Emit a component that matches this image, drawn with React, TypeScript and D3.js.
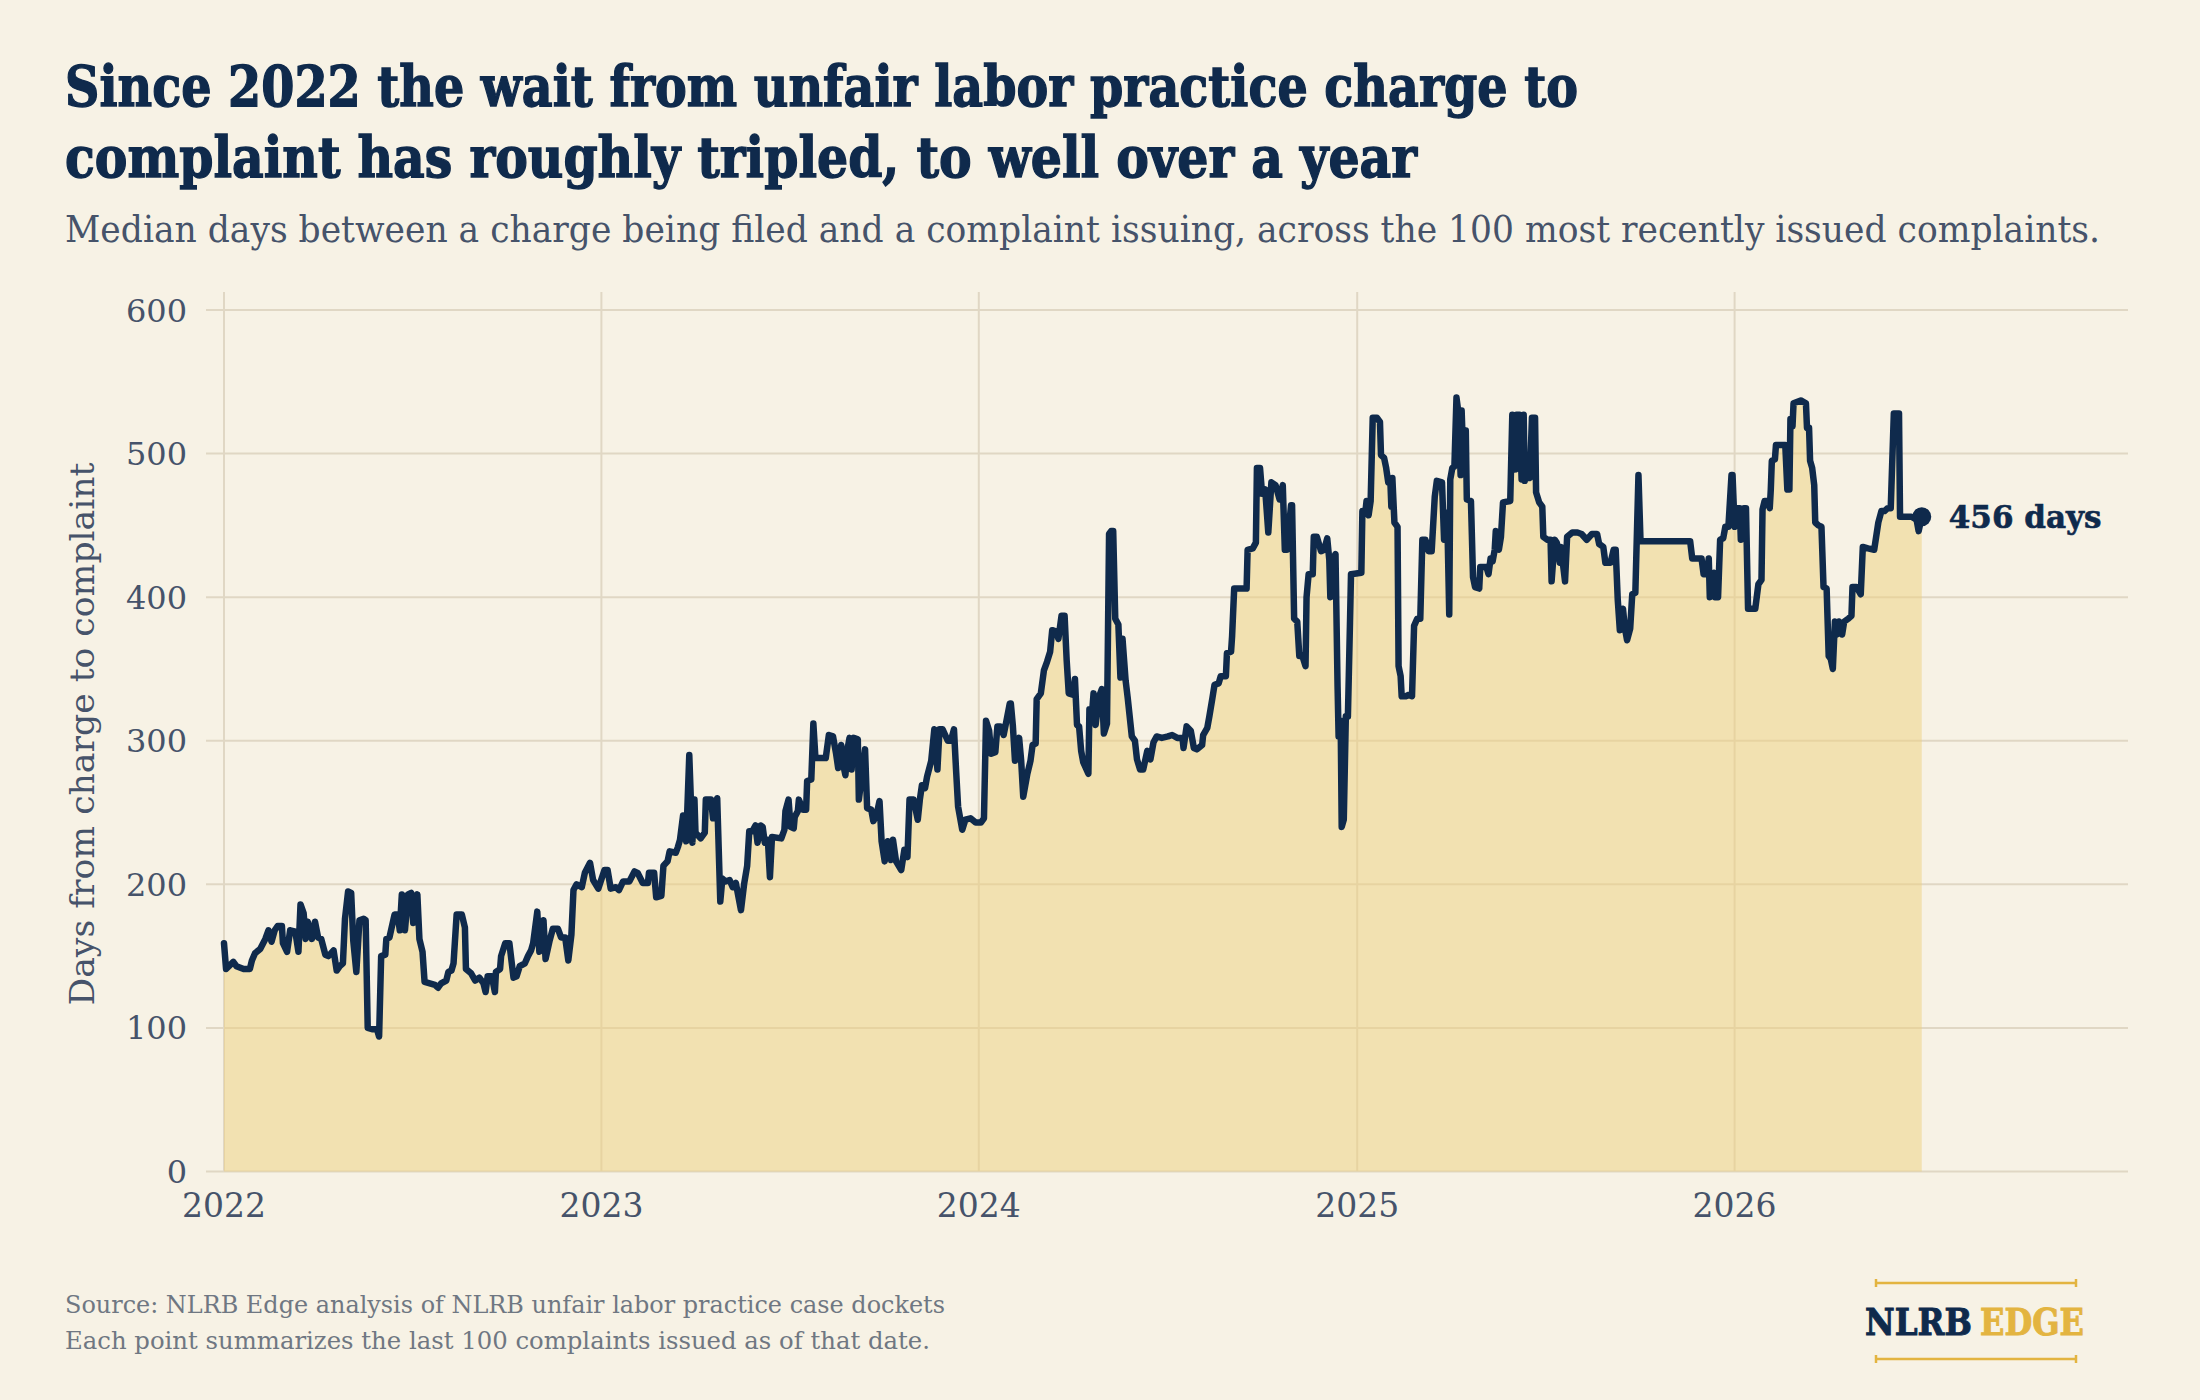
import React, { useEffect, useRef } from "react";
import * as d3 from "d3";

// ---------- DATA (median days) ----------
const year2022: [string, number][] = [
  ["01-01",159],["01-03",141],["01-10",146],["01-13",143],["01-20",141],["01-26",141],["01-28",147],["01-31",152],
  ["02-05",155],["02-10",162],["02-13",168],["02-16",160],["02-19",168],["02-22",171],["02-26",171],["02-27",159],
  ["03-03",153],["03-06",168],["03-11",167],["03-14",153],["03-16",186],["03-19",180],["03-21",162],["03-23",174],
  ["03-27",162],["03-30",174],["04-02",163],["04-05",162],["04-09",151],["04-12",150],["04-17",154],["04-20",140],
  ["04-23",143],["04-26",145],["04-28",176],["05-01",195],["05-04",194],["05-06",161],["05-09",139],["05-12",175],
  ["05-16",176],["05-18",175],["05-20",100],["05-25",99],["05-29",99],["05-31",94],["06-02",150],["06-06",151],
  ["06-07",162],["06-10",163],["06-15",179],["06-18",179],["06-20",168],["06-22",193],["06-25",168],["06-28",193],
  ["07-01",194],["07-03",173],["07-07",193],["07-09",162],["07-12",153],["07-14",132],["07-19",131],["07-24",130],
  ["07-27",128],["07-30",131],["08-04",133],["08-06",139],["08-09",140],["08-11",145],["08-14",179],["08-19",179],
  ["08-22",170],["08-23",141],["08-28",138],["09-01",133],["09-05",135],["09-09",131],["09-11",125],["09-13",136],
  ["09-17",136],["09-20",125],["09-21",139],["09-25",141],["09-26",150],["09-30",159],["10-04",159],["10-08",135],
  ["10-11",136],["10-14",143],["10-19",145],["10-22",150],["10-25",154],["10-27",159],["10-31",181],["11-02",153],
  ["11-06",175],["11-08",148],["11-12",161],["11-15",169],["11-20",169],["11-23",163],["11-27",163],["11-30",147],
  ["12-03",165],["12-05",196],["12-08",200],["12-13",198],["12-16",208],["12-21",215],["12-24",203],["12-29",197],
];

const year2023: [string, number][] = [
  ["01-04",210],["01-07",210],["01-10",197],["01-15",198],["01-18",196],["01-22",202],["01-28",202],["02-02",209],
  ["02-05",208],["02-10",201],["02-15",201],["02-16",208],["02-21",208],["02-23",191],["02-28",192],["03-02",213],
  ["03-06",216],["03-08",223],["03-14",222],["03-16",226],["03-18",231],["03-21",248],["03-24",230],["03-27",290],
  ["03-30",229],["04-01",259],["04-02",236],["04-07",232],["04-11",236],["04-12",259],["04-17",259],["04-19",246],
  ["04-23",260],["04-26",188],["04-28",204],["05-01",202],["05-05",203],["05-08",198],["05-11",201],["05-16",182],
  ["05-19",200],["05-22",213],["05-24",237],["05-27",237],["05-30",241],["06-01",229],["06-04",241],["06-06",240],
  ["06-08",229],["06-11",231],["06-13",205],["06-15",233],["06-24",232],["06-27",238],["06-28",251],["07-01",259],
  ["07-03",240],["07-06",239],["07-07",247],["07-10",251],["07-11",259],["07-15",252],["07-18",252],["07-19",272],
  ["07-23",273],["07-25",312],["07-27",288],["08-06",288],["08-09",304],["08-13",303],["08-16",291],["08-18",281],
  ["08-21",297],["08-23",283],["08-25",276],["08-27",294],["08-29",302],["08-31",280],["09-02",302],["09-06",301],
  ["09-07",259],["09-10",276],["09-13",294],["09-15",253],["09-19",252],["09-21",244],["09-24",248],["09-27",258],
  ["09-29",230],["10-02",216],["10-05",230],["10-08",217],["10-10",231],["10-13",216],["10-18",210],["10-21",224],
  ["10-24",219],["10-26",259],["10-30",259],["11-03",245],["11-05",259],["11-07",269],["11-10",267],["11-12",275],
  ["11-16",286],["11-19",308],["11-22",280],["11-24",308],["11-27",308],["12-02",300],["12-05",300],["12-08",308],
  ["12-10",280],["12-12",254],["12-16",238],["12-19",245],["12-24",246],["12-29",243],
];

const year2024: [string, number][] = [
  ["01-03",243],["01-06",246],["01-08",314],["01-11",307],["01-13",291],["01-17",292],["01-19",310],["01-22",310],
  ["01-25",304],["01-27",311],["01-31",326],["02-01",326],["02-03",310],["02-05",286],["02-09",302],["02-11",286],
  ["02-13",261],["02-17",277],["02-20",286],["02-22",297],["02-25",298],["02-26",329],["03-01",333],["03-04",349],
  ["03-07",355],["03-10",362],["03-12",377],["03-16",376],["03-18",371],["03-21",387],["03-24",387],["03-26",356],
  ["03-28",333],["04-01",332],["04-03",343],["04-05",311],["04-07",310],["04-09",293],["04-11",285],["04-16",277],
  ["04-17",322],["04-19",314],["04-21",333],["04-23",311],["04-26",330],["04-29",336],["05-01",305],["05-04",312],
  ["05-06",444],["05-08",446],["05-10",446],["05-12",385],["05-15",381],["05-17",344],["05-19",371],["05-22",342],
  ["05-24",330],["05-28",303],["05-31",300],["06-02",287],["06-05",280],["06-08",280],["06-12",293],["06-15",287],
  ["06-18",299],["06-21",303],["06-26",302],["07-02",303],["07-06",304],["07-11",302],["07-16",302],["07-17",295],
  ["07-20",310],["07-24",307],["07-27",295],["07-30",294],["08-04",297],["08-05",304],["08-09",309],["08-11",317],
  ["08-14",330],["08-16",339],["08-20",340],["08-22",345],["08-27",345],["08-28",361],["09-01",362],["09-02",373],
  ["09-04",406],["09-16",406],["09-17",433],["09-22",434],["09-25",438],["09-26",490],["09-29",490],["10-01",472],
  ["10-04",475],["10-07",445],["10-10",480],["10-14",478],["10-18",468],["10-21",478],["10-23",433],["10-25",433],
  ["10-29",464],["10-30",464],["11-01",385],["11-04",383],["11-06",359],["11-09",359],["11-12",352],["11-13",400],
  ["11-15",416],["11-19",416],["11-20",442],["11-23",442],["11-27",432],["11-30",433],["12-03",441],["12-05",426],
  ["12-06",400],["12-08",426],["12-11",430],["12-13",338],["12-14",303],["12-16",314],["12-17",240],["12-19",245],
  ["12-21",317],["12-23",317],["12-25",382],["12-26",416],
];

const year2025: [string, number][] = [
  ["01-05",417],["01-06",460],["01-09",460],["01-10",467],["01-12",457],["01-14",467],["01-16",525],["01-20",525],
  ["01-23",522],["01-24",499],["01-27",497],["01-29",490],["01-31",480],["02-02",482],["02-03",463],["02-04",483],
  ["02-06",452],["02-09",449],["02-10",352],["02-12",345],["02-13",331],["02-17",331],["02-20",332],["02-23",331],
  ["02-25",380],["02-28",385],["03-03",385],["03-05",440],["03-08",440],["03-11",432],["03-14",432],["03-17",470],
  ["03-19",481],["03-24",480],["03-26",440],["03-29",459],["03-31",388],["04-01",482],["04-03",490],["04-05",491],
  ["04-07",539],["04-09",528],["04-11",485],["04-12",530],["04-14",487],["04-16",516],["04-17",468],["04-21",467],
  ["04-23",414],["04-25",407],["04-29",406],["04-30",421],["05-06",421],["05-08",416],["05-10",427],["05-12",425],
  ["05-14",433],["05-15",446],["05-18",433],["05-20",442],["05-22",466],["05-29",467],["05-31",527],["06-03",489],
  ["06-04",527],["06-07",527],["06-09",482],["06-11",527],["06-12",481],["06-14",496],["06-17",483],["06-19",525],
  ["06-22",525],["06-23",473],["06-26",466],["06-29",463],["06-30",442],["07-04",440],["07-07",440],["07-08",411],
  ["07-11",440],["07-13",438],["07-16",424],["07-17",435],["07-21",411],["07-23",442],["07-28",445],["08-02",445],
  ["08-06",444],["08-11",440],["08-16",444],["08-21",444],["08-23",437],["08-27",435],["08-29",424],["09-03",424],
  ["09-06",433],["09-08",433],["09-10",398],["09-12",377],["09-15",392],["09-17",378],["09-19",370],["09-22",378],
  ["09-24",402],["09-27",403],["09-30",485],["10-02",439],["11-19",439],["11-21",427],["11-30",427],["12-02",416],
  ["12-05",416],["12-07",427],["12-08",400],["12-12",417],["12-13",400],["12-16",400],["12-18",440],["12-21",441],
  ["12-23",449],["12-26",449],["12-29",485],["12-30",485],
];

const year2026: [string, number][] = [
  ["01-01",449],["01-03",462],["01-06",462],["01-07",440],["01-10",462],["01-12",462],["01-14",392],["01-21",392],
  ["01-24",409],["01-27",412],["01-28",461],["01-30",467],["02-02",467],["02-04",462],["02-05",475],["02-06",495],
  ["02-09",496],["02-10",506],["02-19",506],["02-21",475],["02-23",475],["02-24",524],["02-26",519],["02-27",535],
  ["03-06",537],["03-11",535],["03-12",518],["03-14",518],["03-15",495],["03-17",490],["03-19",478],["03-20",452],
  ["03-23",450],["03-26",449],["03-28",407],["03-31",406],["04-02",359],["04-04",357],["04-06",350],["04-08",383],
  ["04-10",374],["04-12",383],["04-15",374],["04-17",383],["04-21",385],["04-24",387],["04-25",407],["04-29",407],
  ["05-03",402],["05-05",435],["05-10",434],["05-16",433],["05-20",452],["05-23",460],["05-26",460],["05-29",462],
  ["06-01",462],["06-04",528],["06-09",528],["06-10",456],["06-21",456],["06-26",454],["06-28",446],["07-01",456],
];

const seriesByYear: [number, [string, number][]][] = [
  [2022, year2022], [2023, year2023], [2024, year2024], [2025, year2025], [2026, year2026],
];

const yTicks = [0, 100, 200, 300, 400, 500, 600];
const xTickYears = [2022, 2023, 2024, 2025, 2026];

const titleLines = [
  "Since 2022 the wait from unfair labor practice charge to",
  "complaint has roughly tripled, to well over a year",
];
const subtitle =
  "Median days between a charge being filed and a complaint issuing, across the 100 most recently issued complaints.";
const yAxisTitle = "Days from charge to complaint";
const footerLines = [
  "Source: NLRB Edge analysis of NLRB unfair labor practice case dockets",
  "Each point summarizes the last 100 complaints issued as of that date.",
];

// ---------- STYLE ----------
const W = 2200;
const H = 1400;
const BG = "#f7f2e5";
const NAVY = "#0f2a4c";
const GOLD = "#e3b440";
const SLATE = "#46536a";
const GRID = "#e0d7c4";
const AREA = "#edcf7e";
const FONT = "'DejaVu Serif', 'Liberation Serif', serif";

export default function App() {
  const ref = useRef<SVGSVGElement | null>(null);

  useEffect(() => {
    const parse = d3.timeParse("%Y-%m-%d");
    const data = seriesByYear.flatMap(([yr, rows]) =>
      rows.map(([md, v]) => ({ date: parse(`${yr}-${md}`) as Date, value: v }))
    );

    const svg = d3.select(ref.current);
    svg.selectAll("*").remove();

    svg.append("rect").attr("width", W).attr("height", H).attr("fill", BG);

    const x = d3
      .scaleTime()
      .domain([new Date(2022, 0, 1), new Date(2027, 0, 1)])
      .range([224, 2112]);
    const y = d3.scaleLinear().domain([0, 600]).range([1171.5, 310]);

    const gridLeft = 206;
    const gridRight = 2128;
    const gridTop = 292;

    // Title
    const tl = [
      { text: titleLines[0], y: 106, len: 1513 },
      { text: titleLines[1], y: 177, len: 1352 },
    ];
    tl.forEach((t) =>
      svg
        .append("text")
        .attr("x", 65)
        .attr("y", t.y)
        .attr("font-family", FONT)
        .attr("font-weight", 700)
        .attr("font-size", 56)
        .attr("fill", NAVY)
        .attr("stroke", NAVY)
        .attr("stroke-width", 1.4)
        .attr("textLength", t.len)
        .attr("lengthAdjust", "spacingAndGlyphs")
        .text(t.text)
    );

    svg
      .append("text")
      .attr("x", 65)
      .attr("y", 242)
      .attr("font-family", FONT)
      .attr("font-size", 37)
      .attr("fill", SLATE)
      .attr("textLength", 2035)
      .attr("lengthAdjust", "spacingAndGlyphs")
      .text(subtitle);

    // Grid
    const grid = svg.append("g");
    grid
      .selectAll("line.h")
      .data(yTicks)
      .join("line")
      .attr("x1", gridLeft)
      .attr("x2", gridRight)
      .attr("y1", (d) => y(d))
      .attr("y2", (d) => y(d))
      .attr("stroke", GRID)
      .attr("stroke-width", 2);
    grid
      .selectAll("line.v")
      .data(xTickYears)
      .join("line")
      .attr("x1", (d) => x(new Date(d, 0, 1)))
      .attr("x2", (d) => x(new Date(d, 0, 1)))
      .attr("y1", gridTop)
      .attr("y2", y(0))
      .attr("stroke", GRID)
      .attr("stroke-width", 2);

    // Area + line
    const area = d3
      .area<{ date: Date; value: number }>()
      .x((d) => x(d.date))
      .y0(y(0))
      .y1((d) => y(d.value));
    svg.append("path").datum(data).attr("d", area).attr("fill", AREA).attr("fill-opacity", 0.5);

    const line = d3
      .line<{ date: Date; value: number }>()
      .x((d) => x(d.date))
      .y((d) => y(d.value));
    svg
      .append("path")
      .datum(data)
      .attr("d", line)
      .attr("fill", "none")
      .attr("stroke", NAVY)
      .attr("stroke-width", 6.5)
      .attr("stroke-linejoin", "round")
      .attr("stroke-linecap", "round");

    // End marker
    const last = data[data.length - 1];
    svg
      .append("circle")
      .attr("cx", x(last.date))
      .attr("cy", y(last.value))
      .attr("r", 9.5)
      .attr("fill", NAVY);
    svg
      .append("text")
      .attr("x", x(last.date) + 27)
      .attr("y", y(last.value) + 11)
      .attr("font-family", FONT)
      .attr("font-weight", 700)
      .attr("font-size", 31)
      .attr("fill", NAVY)
      .attr("stroke", NAVY)
      .attr("stroke-width", 0.6)
      .text(`${last.value} days`);

    // Y tick labels
    svg
      .append("g")
      .selectAll("text")
      .data(yTicks)
      .join("text")
      .attr("x", 187)
      .attr("y", (d) => y(d))
      .attr("dy", "0.36em")
      .attr("text-anchor", "end")
      .attr("font-family", FONT)
      .attr("font-size", 32)
      .attr("fill", SLATE)
      .text((d) => String(d));

    // X tick labels
    svg
      .append("g")
      .selectAll("text")
      .data(xTickYears)
      .join("text")
      .attr("x", (d) => x(new Date(d, 0, 1)))
      .attr("y", 1217)
      .attr("text-anchor", "middle")
      .attr("font-family", FONT)
      .attr("font-size", 33)
      .attr("fill", SLATE)
      .text((d) => String(d));

    // Y axis title
    svg
      .append("text")
      .attr("transform", "translate(82,734) rotate(-90)")
      .attr("text-anchor", "middle")
      .attr("dy", "0.35em")
      .attr("font-family", FONT)
      .attr("font-size", 33)
      .attr("fill", SLATE)
      .attr("textLength", 543)
      .attr("lengthAdjust", "spacingAndGlyphs")
      .text(yAxisTitle);

    // Footer
    [
      { t: footerLines[0], y: 1313, len: 880 },
      { t: footerLines[1], y: 1349, len: 865 },
    ].forEach((f) =>
      svg
        .append("text")
        .attr("x", 65)
        .attr("y", f.y)
        .attr("font-family", FONT)
        .attr("font-size", 25)
        .attr("fill", "#6f7782")
        .attr("textLength", f.len)
        .attr("lengthAdjust", "spacingAndGlyphs")
        .text(f.t)
    );

    // Logo
    const logo = svg.append("g");
    [1283, 1359].forEach((ly) => {
      logo
        .append("line")
        .attr("x1", 1876)
        .attr("x2", 2076)
        .attr("y1", ly)
        .attr("y2", ly)
        .attr("stroke", GOLD)
        .attr("stroke-width", 2.5);
      [1876, 2076].forEach((lx) =>
        logo
          .append("line")
          .attr("x1", lx)
          .attr("x2", lx)
          .attr("y1", ly - 4)
          .attr("y2", ly + 4)
          .attr("stroke", GOLD)
          .attr("stroke-width", 2.5)
      );
    });
    logo
      .append("text")
      .attr("x", 1865)
      .attr("y", 1335)
      .attr("font-family", FONT)
      .attr("font-weight", 700)
      .attr("font-size", 38)
      .attr("fill", NAVY)
      .attr("stroke", NAVY)
      .attr("stroke-width", 1)
      .attr("textLength", 107)
      .attr("lengthAdjust", "spacingAndGlyphs")
      .text("NLRB");
    logo
      .append("text")
      .attr("x", 1980)
      .attr("y", 1335)
      .attr("font-family", FONT)
      .attr("font-weight", 700)
      .attr("font-size", 38)
      .attr("fill", GOLD)
      .attr("stroke", GOLD)
      .attr("stroke-width", 1)
      .attr("textLength", 104)
      .attr("lengthAdjust", "spacingAndGlyphs")
      .text("EDGE");
  }, []);

  return (
    <svg
      ref={ref}
      width={W}
      height={H}
      style={{ position: "absolute", left: 0, top: 0, display: "block" }}
    />
  );
}
